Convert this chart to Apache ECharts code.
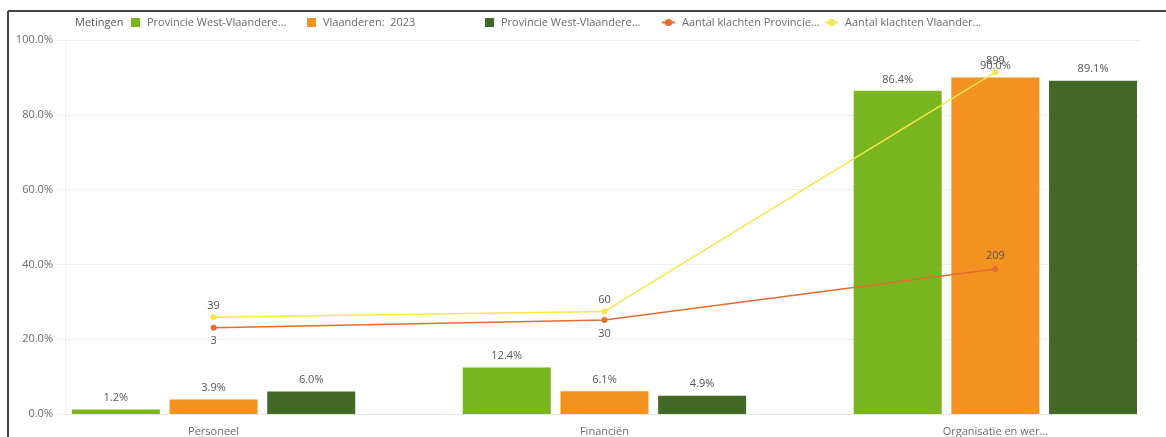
<!DOCTYPE html>
<html>
<head>
<meta charset="utf-8">
<script src="https://cdn.jsdelivr.net/npm/echarts@6/dist/echarts.min.js"></script>
<style>
  html, body { margin: 0; padding: 0; background: #fff; }
  #chart { width: 1166px; height: 437px; }
</style>
</head>
<body>
<div id="chart"></div>
<script>
// categories on the x axis (as shown, truncated)
const categories = ['Personeel', 'Financiën', 'Organisatie en wer...'];

// bar series (percentages)
const westVl2023 = [1.2, 12.4, 86.4];
const vlaanderen2023 = [3.9, 6.1, 90.0];
const westVlPrev = [6.0, 4.9, 89.1];

// line series (number of complaints)
const klachtenProvincie = [3, 30, 209];
const klachtenVlaanderen = [39, 60, 899];

const yTicks = [0, 20, 40, 60, 80, 100];

const seriesNames = [
  'Provincie West-Vlaanderen: 2023',
  'Vlaanderen: 2023',
  'Provincie West-Vlaanderen: 2022',
  'Aantal klachten Provincie West-Vlaanderen',
  'Aantal klachten Vlaanderen'
];
const legendTexts = [
  'Provincie West-Vlaandere...',
  'Vlaanderen:  2023',
  'Provincie West-Vlaandere...',
  'Aantal klachten Provincie...',
  'Aantal klachten Vlaander...'
];

const colors = ['#79B51F', '#F39220', '#426A26', '#E46C30', '#F7E648'];
const legendLeft = [131, 307, 485, 661, 824];
const provLabelPos = ['bottom', 'bottom', 'top'];

const font = '"Open Sans", "DejaVu Sans", sans-serif';
const txt = '#6b6b6b';

const chart = echarts.init(document.getElementById('chart'));

const pairs = arr => arr.map((v, i) => [i, v]);

const barSeries = [westVl2023, vlaanderen2023, westVlPrev].map((arr, k) => ({
  name: seriesNames[k],
  type: 'bar',
  xAxisIndex: 0,
  yAxisIndex: 0,
  barWidth: 88,
  barGap: '11%',
  data: pairs(arr),
  itemStyle: { color: colors[k] },
  label: {
    show: true,
    position: 'top',
    distance: 6,
    color: '#555',
    fontFamily: font,
    fontSize: 11,
    formatter: p => p.value[1].toFixed(1) + '%'
  }
}));

const lineStyleCommon = (k) => ({
  type: 'line',
  yAxisIndex: 1,
  symbol: 'circle',
  symbolSize: 6,
  lineStyle: { width: 1.5, color: colors[k] },
  itemStyle: { color: colors[k] },
  z: 5
});

const provSeries = Object.assign(lineStyleCommon(3), {
  name: seriesNames[3],
  data: klachtenProvincie.map((v, i) => ({
    value: [i, v],
    label: { position: provLabelPos[i] }
  })),
  label: { show: true, color: '#555', fontFamily: font, fontSize: 11, distance: 5,
    formatter: p => p.value[1] }
});

const vlSeries = Object.assign(lineStyleCommon(4), {
  name: seriesNames[4],
  data: pairs(klachtenVlaanderen),
  label: { show: true, position: 'top', color: '#555', fontFamily: font, fontSize: 11, distance: 3,
    formatter: p => p.value[1] }
});

const legends = seriesNames.map((n, k) => ({
  data: [n],
  left: legendLeft[k],
  top: 17,
  padding: 0,
  itemWidth: k < 3 ? 9 : 13,
  itemHeight: 9,
  icon: k < 3 ? 'rect' : undefined,
  itemGap: 0,
  selectedMode: false,
  textStyle: { color: txt, fontFamily: font, fontSize: 11, padding: [0, 0, 0, 2] },
  formatter: () => legendTexts[k]
}));

chart.setOption({
  animation: false,
  color: colors,
  textStyle: { fontFamily: font },
  graphic: [
    { type: 'line', shape: { x1: 8, y1: 11, x2: 1166, y2: 11 }, style: { stroke: '#444', lineWidth: 2 } },
    { type: 'line', shape: { x1: 8, y1: 11, x2: 8, y2: 437 }, style: { stroke: '#444', lineWidth: 2 } },
    { type: 'text', left: 75, top: 17, style: { text: 'Metingen', fill: '#555', font: '11px ' + font } }
  ],
  legend: legends,
  grid: { left: 65, right: 26, top: 40, bottom: 23, containLabel: false },
  xAxis: {
    type: 'value',
    min: -0.38,
    max: 2.37,
    splitLine: { show: false },
    axisLine: { show: true, onZero: false, lineStyle: { color: '#e6e6e6' } },
    axisTick: { show: false },
    axisLabel: {
      customValues: [0, 1, 2],
      hideOverlap: false,
      margin: 12,
      color: txt,
      fontFamily: font,
      fontSize: 11,
      formatter: v => categories[Math.round(v)] || ''
    }
  },
  yAxis: [{
    type: 'value',
    min: 0,
    max: 100,
    interval: 20,
    axisLine: { show: true, onZero: false, lineStyle: { color: '#f0f0f0' } },
    axisTick: { show: true, length: 8, lineStyle: { color: '#eeeeee' } },
    splitLine: { show: true, lineStyle: { color: '#efefef' } },
    axisLabel: {
      margin: 12,
      color: txt,
      fontFamily: font,
      fontSize: 11,
      formatter: v => (yTicks.indexOf(v) >= 0 ? v.toFixed(1) + '%' : '')
    }
  }, {
    type: 'value',
    min: -300,
    max: 1012,
    show: false,
    splitLine: { show: false }
  }],
  series: [...barSeries, provSeries, vlSeries]
});
</script>
</body>
</html>
